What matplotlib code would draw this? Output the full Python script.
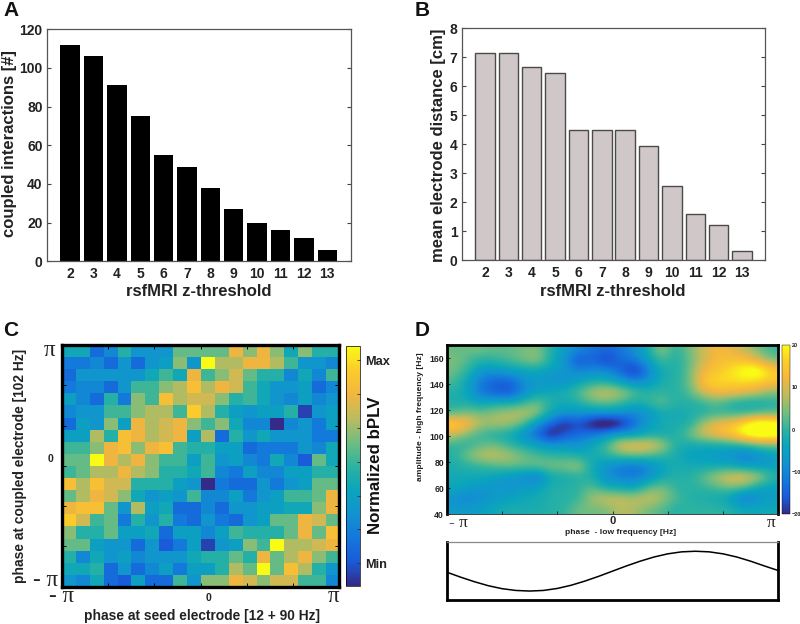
import numpy as np
import matplotlib
matplotlib.use("Agg")
import matplotlib.pyplot as plt
from matplotlib.colors import LinearSegmentedColormap

thresholds = [2, 3, 4, 5, 6, 7, 8, 9, 10, 11, 12, 13]
coupled = [112, 106, 91, 75, 55, 49, 38, 27, 20, 16, 12, 6]
distance = [7.15, 7.15, 6.68, 6.46, 4.49, 4.49, 4.49, 3.93, 2.56, 1.6, 1.21, 0.33]

bplv_rows = [
 [4,4,1.5,2.5,4.5,3,3,3,5.5,5.5,5.5,5.5,7.5,6,7.5,6,4,6,4.5,4.5],
 [2,2,2.5,1.5,3,1.5,3,3.5,6,3,9.5,6.5,6.5,7.5,7.5,6.5,5,3,3,2.5],
 [1.5,3,3,3,3,3,4,5,4,7.5,5,6,7,5.5,4.5,4.5,2.5,4,2.5,5],
 [2,2.5,2.5,1.5,3,5,5,6,6.5,8,6.5,7.5,7,5,4,3,3,3.5,1.5,2.5],
 [3.5,2.5,1.5,4.5,2,6,5,8,6.5,7,7,6,4.5,5,4,3,2.5,3.5,2.5,3],
 [2.5,3,3,5,5,6,6.5,6.5,5,8.5,6.5,4.5,3.5,3,3.5,3.5,4.5,0.5,3,3.5],
 [1.5,3.5,3,6,3.5,7.5,6.5,7,7.5,6,5,6,4,2.5,2.5,0,2.5,3,2,3.5],
 [3.5,3.5,6.5,4.5,8,7.5,6.5,7,7.5,3.5,6.5,1.5,4.5,3,4,3,3,3,2,2],
 [5,5,6,7.5,8,6,7.5,8,5,4.5,4.5,3.5,3.5,1.5,2,2,2,3,2.5,4],
 [5.5,5.5,9.5,7.5,6.5,7.5,6,5,5,3.5,5,3,3.5,2.5,2,4,2.5,1,5.5,4],
 [5,5.5,6.5,6.5,7.5,6.5,6,4.5,4.5,4,5,2.5,2,3.5,2.5,2.5,3.5,3.5,4.5,4.5],
 [8,6.5,8,7,7,4.5,4.5,4.5,3.5,3,0,2,1.5,1.5,3,2,3,3.5,5.5,5.5],
 [5.5,6.5,7.5,7,6,4,3,3.5,3,5,2.5,2.5,3.5,2,3,3.5,5,5,5.5,7.5],
 [7.5,8,8,5.5,3,6.5,3.5,4,1.5,1.5,2.5,1.5,3,3,3.5,3.5,4,4,6,7.5],
 [8.5,7,5,5.5,2,4.5,3,4.5,2,1.5,3,2,1.5,3,3.5,5.5,5.5,7.5,7,5.5],
 [6,4.5,4.5,5.5,3.5,3.5,4,1.5,3.5,3.5,2.5,3.5,5,4.5,4.5,4.5,5.5,7.5,5.5,8],
 [5.5,5.5,3.5,3,3,1.5,3,1,2,3.5,0.5,3,3.5,6,5,9.5,6.5,6.5,7,7.5],
 [4.5,2.5,4,3,3.5,2.5,3,3,3,4,4.5,4.5,5.5,4.5,7.5,5.5,6.5,7.5,6,5],
 [4,4,4.5,1.5,3,1.5,2.5,3.5,2,3.5,3.5,4.5,6.5,5.5,9.5,5.5,8,6.5,4.5,3],
 [3,2.5,4,1.5,1,3.5,1.5,1.5,5,3,6,6,7.5,7,6,7,7,5,5,2.5],
]

pac_rows = [
 [3,4,4,3,3,4,5,-1,-6,-9,-12,-14,-12,-8,-3,7,-1,4,9,13,11,8,4,0],
 [5,2,-1,0,2,4,7,-2,-7,-18,-14,-20,-14,-12,-5,2,-2,3,9,13,14,14,10,4],
 [4,0,-7,-7,-5,-4,-4,-5,-7,-10,-9,-9,-14,-22,-12,-2,-2,3,12,15,18,22,24,16],
 [2,-4,-12,-15,-15,-9,-6,-9,-8,-5,-2,-2,-6,-10,-8,-2,-1,3,15,18,17,18,17,15],
 [-1,-4,-13,-16,-18,-10,-5,-3,-2,2,8,10,8,3,-1,0,-1,2,10,13,13,12,9,5],
 [-2,-2,-5,-2,-3,0,4,-1,-3,-1,3,4,2,-2,0,4,-1,-1,0,3,-1,-3,-3,-1],
 [2,5,4,6,8,9,7,-4,-7,-7,-8,-7,-8,-10,-8,-3,-3,-2,-1,0,0,0,2,2],
 [18,14,7,8,7,3,-8,-14,-22,-17,-24,-28,-24,-14,-6,-2,-2,-2,7,12,14,19,26,24],
 [9,4,0,-2,-3,-9,-14,-24,-16,-14,-12,-8,-5,-6,-3,-3,-2,4,10,13,16,22,26,24],
 [0,-1,3,4,0,-2,-5,-7,-7,-8,-3,1,12,13,13,9,-1,-3,-3,-3,-2,0,3,4],
 [-1,5,9,9,8,4,2,0,0,-2,-3,0,2,4,2,0,-2,-5,-5,-7,-8,-13,-9,-6],
 [-2,-1,0,2,3,3,4,5,5,8,-3,-8,-11,-14,-10,-5,-2,-3,-3,-3,-3,-5,-6,-5],
 [-3,-3,-3,-5,-7,-9,-13,-3,-3,-1,-2,-8,-11,-11,-9,-3,-1,-1,3,8,12,12,9,0],
 [-3,-5,-7,-7,-8,-6,-5,-1,-1,0,3,-3,-3,-5,2,5,0,-1,0,2,4,3,-4,-5],
 [-8,-11,-9,-6,-5,-3,-3,-1,-1,0,7,10,9,8,10,7,2,-1,-2,-3,-5,-14,-8,-6],
 [-6,-6,-5,-3,-2,-2,-2,-1,0,4,4,4,8,7,4,2,-1,0,0,0,-1,-3,-3,-3],
]

wave_x = [-12,-11,-10,-9,-8,-7,-6,-5,-4,-3,-2,-1,0,1,2,3,4,5,6,7,8,9,10,11,12]
wave_y = [-0.05,-0.3,-0.53,-0.73,-0.88,-0.97,-1,-0.97,-0.87,-0.71,-0.5,-0.26,0,0.26,0.5,0.71,0.87,0.97,1,0.97,0.87,0.71,0.5,0.26,0.03]

parula = LinearSegmentedColormap.from_list("parula", [
    "#352a87", "#1a5bd8", "#1478dc", "#1293d0", "#0aa5bc", "#2eb3a0",
    "#72bd80", "#bcbc5e", "#f3b63f", "#fbcc2a", "#f9fb14"])

W, H = 800, 624
DARK = "#222222"
plt.rcParams["font.family"] = ["Liberation Sans", "DejaVu Sans"]
plt.rcParams["font.weight"] = "bold"
plt.rcParams["axes.labelweight"] = "bold"
fig = plt.figure(figsize=(W / 100, H / 100), dpi=100)


def px_axes(l, t, r, b):
    return fig.add_axes([l / W, 1 - b / H, (r - l) / W, (b - t) / H])


def labels(ax, xlabel, xpos, ylabel, ypos, size):
    ax.set_xlabel(xlabel, fontsize=size, color=DARK, va="center")
    ax.xaxis.set_label_coords(xpos[0] / W, 1 - xpos[1] / H, transform=fig.transFigure)
    ax.set_ylabel(ylabel, fontsize=size, color=DARK, va="center")
    ax.yaxis.set_label_coords(ypos[0] / W, 1 - ypos[1] / H, transform=fig.transFigure)


def bar_axes(ax, values, ymax, yticks, ylabel, xpos, ypos, **bar):
    ax.bar(thresholds, values, width=0.83, **bar)
    ax.set_xlim(1, 14)
    ax.set_ylim(0, ymax)
    ax.set_xticks(thresholds)
    ax.set_yticks(yticks)
    ax.tick_params(direction="in", length=3, width=0.8, color="#444444", top=True, right=True,
                   labelsize=10, labelcolor=DARK, pad=3)
    ax.tick_params(axis="x", top=False, length=0, pad=4)
    for s in ax.spines.values():
        s.set_color("#555555")
        s.set_linewidth(0.9)
    labels(ax, "rsfMRI z-threshold", xpos, ylabel, ypos, 12)


axA = px_axes(46.7, 29.3, 350.7, 261.3)
bar_axes(axA, coupled, 120, range(0, 121, 20), "coupled interactions [#]", (199, 292), (10, 144), color="black")

axB = px_axes(461.7, 28.3, 765.3, 260.3)
bar_axes(axB, distance, 8, range(0, 9), "mean electrode distance [cm]", (613, 291), (439, 145),
         color="#d0c8c8", edgecolor="#4a4a4a", linewidth=1.0)

PI = "\u03c0"
serif = dict(family=["Liberation Serif", "DejaVu Serif"], weight="normal")

# Panel C
axC = px_axes(61.7, 345, 339.3, 586.7)
imC = axC.imshow(np.array(bplv_rows), cmap=parula, vmin=0, vmax=9.5, aspect="auto",
                 interpolation="nearest", extent=[-np.pi, np.pi, -np.pi, np.pi])
axC.set_xticks(np.linspace(-np.pi, np.pi, 7), [""] * 7)
axC.set_yticks(np.linspace(-np.pi, np.pi, 7), [""] * 7)
axC.tick_params(direction="in", length=3, width=0.7, color="black", top=True, right=True)
for s in axC.spines.values():
    s.set_linewidth(2.4)
    s.set_color("black")
labels(axC, "phase at seed electrode [12 + 90 Hz]", (202, 616),
       "phase at coupled electrode [102 Hz]", (20, 466), 9.9)

cC = fig.add_axes([345.7 / W, 1 - 585.7 / H, 14.3 / W, 240 / H])
cbC = fig.colorbar(imC, cax=cC)
cbC.set_ticks(np.linspace(0.89, 8.93, 7), labels=["Min", "", "", "", "", "", "Max"])
cbC.ax.tick_params(direction="in", length=2, width=0.6, labelsize=9.2, labelcolor=DARK, color="#333333", pad=4)
cbC.outline.set_linewidth(0.5)
fig.text(375 / W, 1 - 465 / H, "Normalized bPLV", rotation=90, fontsize=12.2, color="#111111",
         ha="center", va="center")

fig.text(208 / W, 1 - 598 / H, "0", fontsize=7.5, color=DARK, ha="center", va="center")
fig.text(50 / W, 1 - 459 / H, "0", fontsize=7.5, color=DARK, ha="center", va="center")
for x, y, s, ha in [(49, 597, "- " + PI, "left"), (334, 597, PI, "center"),
                    (49, 350, PI, "center"), (33, 580, "- " + PI, "left")]:
    fig.text(x / W, 1 - y / H, s, fontsize=16.5, color=DARK, ha=ha, va="center", **serif)

# Panel D
axD = px_axes(446.7, 345, 778.3, 514.3)
imD = axD.imshow(np.array(pac_rows, dtype=float), cmap=parula, vmin=-20, vmax=20, aspect="auto",
                 interpolation="bicubic", extent=[-np.pi, np.pi, 40, 170])
axD.set_xticks(np.linspace(-np.pi, np.pi, 7), ["", "", "", "0", "", "", ""])
axD.set_yticks(range(40, 161, 20))
axD.tick_params(direction="in", length=2, width=0.5, labelsize=6.2, labelcolor=DARK, pad=2)
axD.tick_params(axis="x", labelsize=8, pad=1.5)
for name, s in axD.spines.items():
    s.set_linewidth(0.6 if name == "bottom" else 2.0)
    s.set_color("#222222" if name == "bottom" else "black")
axD.set_xlabel("phase  - low frequency [Hz]", fontsize=6.1, color=DARK, va="center")
axD.xaxis.set_label_coords(621 / W, 1 - 533 / H, transform=fig.transFigure)
axD.set_ylabel("amplitude - high frequency [Hz]", fontsize=6.1, color=DARK, va="center")
axD.yaxis.set_label_coords(421 / W, 1 - 417 / H, transform=fig.transFigure)
fig.text(449 / W, 1 - 523 / H, "- " + PI, fontsize=12.5, color=DARK, ha="left", va="center", **serif)
fig.text(771 / W, 1 - 523 / H, PI, fontsize=12.5, color=DARK, ha="center", va="center", **serif)

cD = fig.add_axes([782.3 / W, 1 - 514.3 / H, 7.7 / W, 169.6 / H])
cbD = fig.colorbar(imD, cax=cD)
cbD.set_ticks([-20, -10, 0, 10, 20])
cbD.ax.tick_params(length=0, labelsize=4, labelcolor=DARK, pad=1.2)
cbD.outline.set_linewidth(0.3)

axW = px_axes(446.7, 542.3, 778.3, 600)
axW.plot(wave_x, wave_y, color="black", lw=1.1)
axW.set_xlim(-12, 12)
axW.set_ylim(-1.45, 1.45)
axW.set_xticks([])
axW.set_yticks([])
for name, s in axW.spines.items():
    s.set_linewidth(2.0)
    s.set_color("black")
axW.spines["top"].set_linewidth(0.9)
axW.spines["top"].set_color("#888888")

for x, y, s in [(3, 11, "A"), (415, 11, "B"), (3, 330, "C"), (415, 330, "D")]:
    fig.text(x / W, 1 - y / H, s, fontsize=15, color="#111111", ha="left", va="center")

fig.savefig("out.png", dpi=100)
